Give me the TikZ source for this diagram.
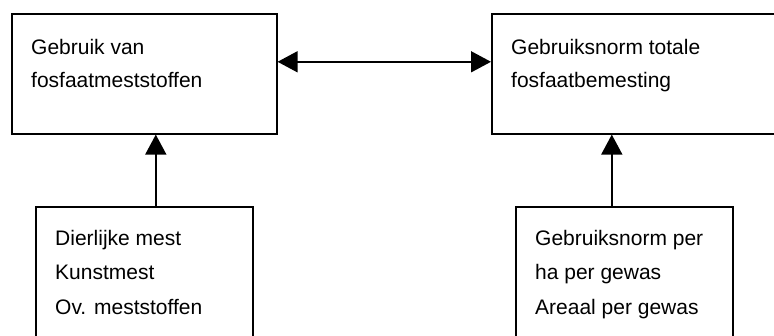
\documentclass[tikz,border=0pt]{standalone}
\usepackage{fontspec}
\setmainfont{Liberation Sans}
\usetikzlibrary{arrows.meta}
\begin{document}
\begin{tikzpicture}[x=1pt,y=-1pt,
  boxnode/.style={draw,line width=1.6pt,rectangle,inner sep=0pt,anchor=north west},
  txt/.style={anchor=base west,inner sep=0pt,font=\fontsize{21}{25}\selectfont},
  conn/.style={line width=1.6pt,-{Triangle[length=20pt,width=21pt]}},
  dconn/.style={line width=1.6pt,{Triangle[length=20pt,width=21pt]}-{Triangle[length=20pt,width=21pt]}}]
\useasboundingbox (0,0) rectangle (774,336);
\clip (0,0) rectangle (774,336);
% boxes
\node[boxnode,minimum width=265pt,minimum height=120pt] (tl) at (11,13) {};
\node[boxnode,minimum width=320pt,minimum height=120pt] (tr) at (491,13) {};
\node[boxnode,minimum width=217pt,minimum height=160pt] (bl) at (35,206) {};
\node[boxnode,minimum width=217pt,minimum height=160pt] (br) at (515,206) {};
% texts
\node[txt] (tl1) at (31,55) {Gebruik van};
\node[txt] (tl2) at (31,88) {fosfaatmeststoffen};
\node[txt] (tr1) at (511,55) {Gebruiksnorm totale};
\node[txt] (tr2) at (511,88) {fosfaatbemesting};
\node[txt] (bl1) at (55,246) {Dierlijke mest};
\node[txt] (bl2) at (55,279.5) {Kunstmest};
\node[txt] (bl3) at (55,314.5) {Ov. meststoffen};
\node[txt] (br1) at (535,246) {Gebruiksnorm per};
\node[txt] (br2) at (535,279.5) {ha per gewas};
\node[txt] (br3) at (535,314.5) {Areaal per gewas};
% connectors
\draw[dconn] ([yshift=12pt]tl.east) -- ([yshift=12pt]tl.east -| tr.west);
\draw[conn] ([xshift=11.5pt]bl.north) -- ([xshift=11.5pt]bl.north |- tl.south);
\draw[conn] ([xshift=-12.5pt]br.north) -- ([xshift=-12.5pt]br.north |- tr.south);
\end{tikzpicture}
\end{document}
